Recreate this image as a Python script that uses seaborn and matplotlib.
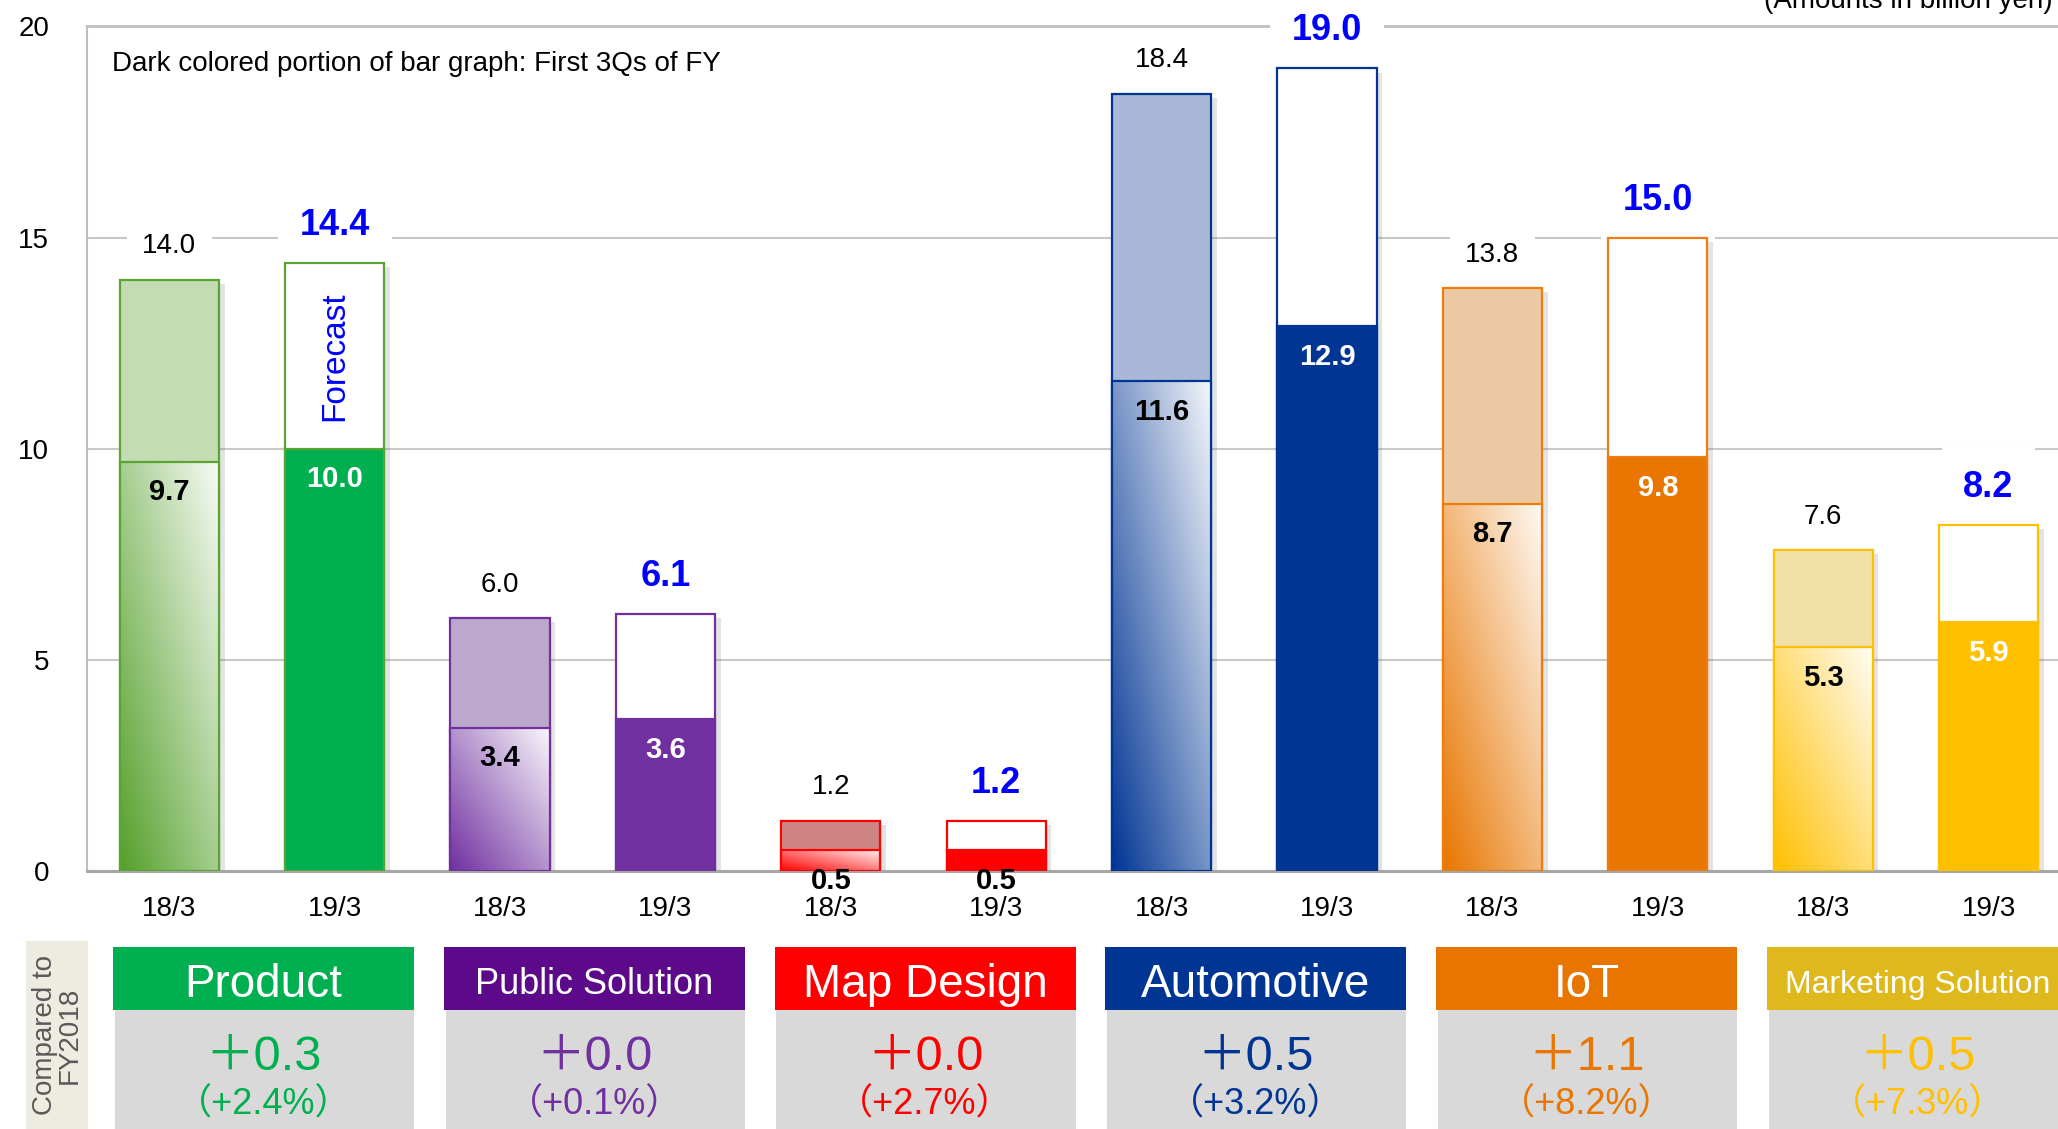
import numpy as np
import pandas as pd
import matplotlib
matplotlib.use("Agg")
import matplotlib.pyplot as plt
import matplotlib.patheffects as pe
import seaborn as sns
from matplotlib.colors import LinearSegmentedColormap, to_rgb
from matplotlib.patches import Rectangle
from matplotlib.transforms import blended_transform_factory

# ---- data (billion yen) ----
segments = ["Product", "Public Solution", "Map Design", "Automotive", "IoT", "Marketing Solution"]
periods = ["18/3", "19/3"]
full_year_prev = [14.0, 6.0, 1.2, 18.4, 13.8, 7.6]     # FY ended 18/3, results
first3q_prev = [9.7, 3.4, 0.5, 11.6, 8.7, 5.3]         # first 3Qs, 18/3
full_year_fcst = [14.4, 6.1, 1.2, 19.0, 15.0, 8.2]     # FY ending 19/3, forecast
first3q_curr = [10.0, 3.6, 0.5, 12.9, 9.8, 5.9]        # first 3Qs, 19/3
change_amount = [0.3, 0.0, 0.0, 0.5, 1.1, 0.5]         # forecast vs FY2018
change_pct = [2.4, 0.1, 2.7, 3.2, 8.2, 7.3]

# ---- styles ----
seg_color = ["#00b050", "#7030a0", "#ff0000", "#003594", "#e87600", "#ffc000"]
prev_dark = ["#55a02b", "#7030a0", "#ff0000", "#003594", "#e87600", "#ffc000"]
prev_light = ["#c3dcb4", "#bca8cc", "#d08585", "#a9b8d6", "#ecc9a2", "#f2e0a8"]
edge_color = ["#5aa532", "#7030a0", "#ff0000", "#003594", "#ee7d10", "#ffc000"]
header_color = ["#00b050", "#5c0a8a", "#ff0000", "#003594", "#e87500", "#dfb81d"]
header_size = [33, 26, 33, 33, 33, 23]

rows = []
for i, s in enumerate(segments):
    rows.append(dict(segment=s, period=periods[0], total=full_year_prev[i], q3=first3q_prev[i]))
    rows.append(dict(segment=s, period=periods[1], total=full_year_fcst[i], q3=first3q_curr[i]))
df = pd.DataFrame(rows)
df["slot"] = df["segment"] + " " + df["period"]
slots = list(df["slot"])

sns.set_theme(style="whitegrid", rc={"grid.color": "#c8c8c8", "grid.linewidth": 1.5})
plt.rcParams["font.family"] = ["Liberation Sans", "Noto Sans CJK JP", "DejaVu Sans"]

W, H = 2058, 1129
fig = plt.figure(figsize=(W / 100, H / 100), dpi=100)
ax = fig.add_axes([0.0421, 0.2281, 0.9579, 0.7487])

# full-year bars, then first-3Q bars on top
sns.barplot(data=df, x="slot", y="total", order=slots, color="white", saturation=1,
            width=0.6, errorbar=None, ax=ax, zorder=2)
sns.barplot(data=df, x="slot", y="q3", order=slots, color="white", saturation=1,
            width=0.6, errorbar=None, ax=ax, zorder=3)
total_bars, q3_bars = ax.containers[0], ax.containers[1]

shadow = [pe.SimplePatchShadow(offset=(4, -3), shadow_rgbFace="0.5", alpha=0.22), pe.Normal()]
u = np.linspace(0, 1, 64)
v = np.linspace(0, 1, 256)
U, V = np.meshgrid(u, v)
ramp = 0.5 * U + 0.5 * V

for k, (tb, qb) in enumerate(zip(total_bars, q3_bars)):
    i, j = divmod(k, 2)
    for p in (tb, qb):
        p.set_edgecolor(edge_color[i])
        p.set_linewidth(1.6)
    tb.set_path_effects(shadow)
    if j == 0:
        tb.set_facecolor(prev_light[i])
        qb.set_facecolor("none")
        dark = np.array(to_rgb(prev_dark[i]))
        light = dark + (1 - dark) * 0.96
        cmap = LinearSegmentedColormap.from_list(f"g{i}", [dark, light])
        x0, y0, w, h = qb.get_x(), qb.get_y(), qb.get_width(), qb.get_height()
        im = ax.imshow(ramp, extent=[x0, x0 + w, y0, y0 + h], origin="lower", cmap=cmap,
                       vmin=0, vmax=1, aspect="auto", interpolation="bilinear", zorder=2.5)
        im.set_clip_path(qb)
    else:
        tb.set_facecolor("white")
        qb.set_facecolor(seg_color[i])

# value labels
for k, row in df.iterrows():
    i, j = divmod(k, 2)
    if j == 0:
        ax.annotate(f"{row.total:.1f}", (k, row.total), xytext=(0, 24), textcoords="offset points",
                    ha="center", va="center", fontsize=20, color="black", zorder=1,
                    bbox=dict(boxstyle="square,pad=0.55", fc="white", ec="none"))
        inner = "black"
    else:
        ax.annotate(f"{row.total:.1f}", (k, row.total), xytext=(0, 27), textcoords="offset points",
                    ha="center", va="center", fontsize=26, fontweight="bold", color="#0000ff",
                    zorder=1, bbox=dict(boxstyle="square,pad=0.6", fc="white", ec="none"))
        inner = "white" if row.q3 > 1 else "black"
    ax.annotate(f"{row.q3:.1f}", (k, row.q3), xytext=(0, -22), textcoords="offset points",
                ha="center", va="center", fontsize=21, fontweight="bold", color=inner,
                zorder=6, annotation_clip=False)

ax.text(1, (first3q_curr[0] + full_year_fcst[0]) / 2, "Forecast", rotation=90,
        ha="center", va="center", fontsize=24, color="#0000ff", zorder=6)

# axes styling
ax.set_xlim(-0.5, 11.42)
ax.set_ylim(0, 20)
ax.set_yticks([0, 5, 10, 15, 20])
ax.set_xticks(range(len(slots)))
ax.set_xticklabels(df["period"])
ax.set_xlabel("")
ax.set_ylabel("")
ax.tick_params(axis="y", length=0, pad=27, labelsize=20, labelcolor="black")
ax.tick_params(axis="x", length=0, pad=18, labelsize=20, labelcolor="black")
ax.xaxis.grid(False)
ax.axhline(20, color="#bfbfbf", lw=2, zorder=0.6, clip_on=False)
for side in ("top", "right"):
    ax.spines[side].set_visible(False)
ax.spines["left"].set_color("#bfbfbf")
ax.spines["left"].set_linewidth(1.5)
ax.spines["bottom"].set_color("#a6a6a6")
ax.spines["bottom"].set_linewidth(2.2)

fig.text(112 / W, 1 - 64 / H, "Dark colored portion of bar graph: First 3Qs of FY",
         ha="left", va="center", fontsize=20, color="black")
fig.text(2053 / W, 1 - 8 / H, "(Amounts in billion yen)", ha="right", va="baseline",
         fontsize=20, color="black")

# comparison panels under the chart
def fy(px):
    return 1 - px / H

fig.add_artist(Rectangle((26 / W, 0), 62 / W, fy(941), transform=fig.transFigure,
                         fc="#eeece1", ec="none"))
fig.text(57 / W, fy(1035), "Compared to\nFY2018", rotation=90, ha="center", va="center",
         multialignment="center", fontsize=20, color="#595959", linespacing=0.95)

trans = blended_transform_factory(ax.transData, fig.transFigure)
hdr_top, hdr_bot = fy(947), fy(1010)
for i, s in enumerate(segments):
    xl, xr = 2 * i - 0.34, 2 * i + 1.48
    fig.add_artist(Rectangle((xl, hdr_bot), xr - xl, hdr_top - hdr_bot, transform=trans,
                             fc=header_color[i], ec="none"))
    fig.add_artist(Rectangle((xl + 0.01, 0), xr - xl - 0.01, hdr_bot, transform=trans,
                             fc="#d9d9d9", ec="none"))
    xc = (xl + xr) / 2
    fig.text(xc, fy(985), s, transform=trans, ha="center", va="center", color="white",
             fontsize=header_size[i])
    fig.text(xc, fy(1058), f"＋{change_amount[i]:.1f}", transform=trans, ha="center",
             va="center", color=seg_color[i], fontsize=35)
    fig.text(xc, fy(1105), f"（+{change_pct[i]:.1f}%）", transform=trans, ha="center",
             va="center", color=seg_color[i], fontsize=26)

fig.savefig("out.png", dpi=100)
